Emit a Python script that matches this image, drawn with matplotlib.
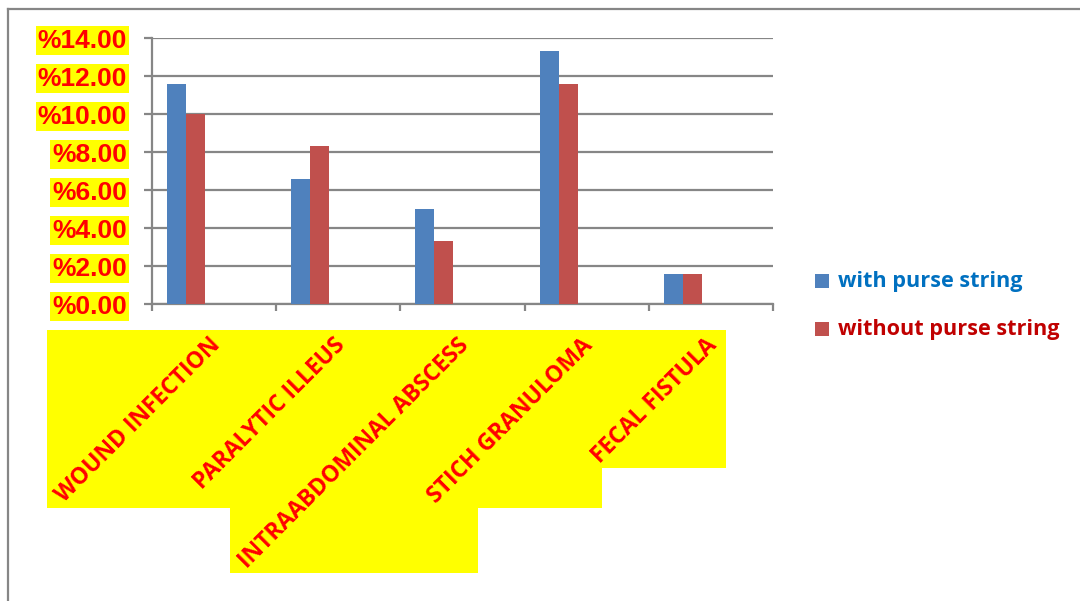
import matplotlib
matplotlib.use('Agg')
import matplotlib.pyplot as plt
import matplotlib.transforms as mtransforms
from matplotlib.patches import Rectangle
from matplotlib.lines import Line2D
import numpy as np

complications = ['WOUND INFECTION', 'PARALYTIC ILLEUS', 'INTRAABDOMINAL ABSCESS',
                 'STICH GRANULOMA', 'FECAL FISTULA']
with_purse = [11.6, 6.6, 5.0, 13.3, 1.6]
without_purse = [10.0, 8.3, 3.3, 11.6, 1.6]
series_names = ['with purse string', 'without purse string']
y_ticks = [0, 2, 4, 6, 8, 10, 12, 14]

bar_blue = '#4F81BD'
bar_red = '#C0504D'
grid_gray = '#868686'

W, H = 1080, 601
fig = plt.figure(figsize=(W / 100, H / 100), dpi=100)
ax = fig.add_axes([152 / W, 1 - 304 / H, (773 - 152) / W, (304 - 38) / H])

x = np.arange(len(complications))
width = 0.153
ax.bar(x - 0.302, with_purse, width, color=bar_blue, zorder=3)
ax.bar(x - 0.149, without_purse, width, color=bar_red, zorder=3)

ax.set_xlim(-0.5, len(complications) - 0.5)
ax.set_ylim(0, 14)
ax.set_yticks(y_ticks)
ax.set_yticklabels(['%{:.2f}'.format(v) for v in y_ticks])
ax.set_xticks(np.arange(len(complications) + 1) - 0.5)
ax.set_xticklabels([])
ax.yaxis.grid(True, color=grid_gray, linewidth=1.6, zorder=0)
ax.set_axisbelow(True)
for s in ['top', 'right']:
	ax.spines[s].set_visible(False)
for s in ['left', 'bottom']:
	ax.spines[s].set_color(grid_gray)
	ax.spines[s].set_linewidth(1.6)
ax.tick_params(axis='y', length=6, width=1.6, color=grid_gray, pad=12)
ax.tick_params(axis='x', length=5, width=1.6, color=grid_gray)

for lbl in ax.get_yticklabels():
	lbl.set_fontfamily('Liberation Sans')
	lbl.set_fontweight('bold')
	lbl.set_fontsize(19)
	lbl.set_color('#FF0000')
	lbl.set_bbox(dict(facecolor='#FFFF00', edgecolor='none', pad=1.5))

# rotated category labels hanging below the axis
cat_texts = []
base = mtransforms.offset_copy(ax.get_xaxis_transform(), fig=fig, x=3, y=-38, units='dots')
for i, name in enumerate(complications):
	t = ax.text(i, 0, name, transform=base, rotation=45, rotation_mode='anchor',
				ha='right', va='center', color='#FF0000', fontsize=16.5,
				fontfamily='Open Sans', fontweight='bold', clip_on=False, zorder=5)
	cat_texts.append(t)

# legend drawn by hand
legend_rows = [(series_names[0], bar_blue, '#0070C0', 281), (series_names[1], bar_red, '#C00000', 329)]
for name, fc, tc, yc in legend_rows:
	fig.add_artist(Rectangle(((815) / W, 1 - (yc + 7) / H), 14 / W, 14 / H,
							 transform=fig.transFigure, facecolor=fc, edgecolor='none'))
	fig.text(838 / W, 1 - (yc + 1) / H, name, color=tc, fontsize=15.6, fontfamily='Open Sans',
			 fontweight='bold', va='center', ha='left')

# outer frame
fig.add_artist(Line2D([8 / W, 8 / W], [0, 1 - 8.5 / H], transform=fig.transFigure,
					  color=grid_gray, linewidth=1.6))
fig.add_artist(Line2D([8 / W, 1], [1 - 8.5 / H, 1 - 8.5 / H], transform=fig.transFigure,
					  color=grid_gray, linewidth=1.6))

# yellow boxes behind the rotated labels
fig.canvas.draw()
renderer = fig.canvas.get_renderer()
inv = fig.transFigure.inverted()
for t in cat_texts:
	bb = t.get_window_extent(renderer)
	x0, y0 = inv.transform((bb.x0 - 4, bb.y0))
	x1, y1 = inv.transform((bb.x1 + 4, bb.y1 + 4))
	fig.add_artist(Rectangle((x0, y0), x1 - x0, y1 - y0, transform=fig.transFigure,
							 facecolor='#FFFF00', edgecolor='none', zorder=-1))

fig.savefig('out.png', dpi=100)
